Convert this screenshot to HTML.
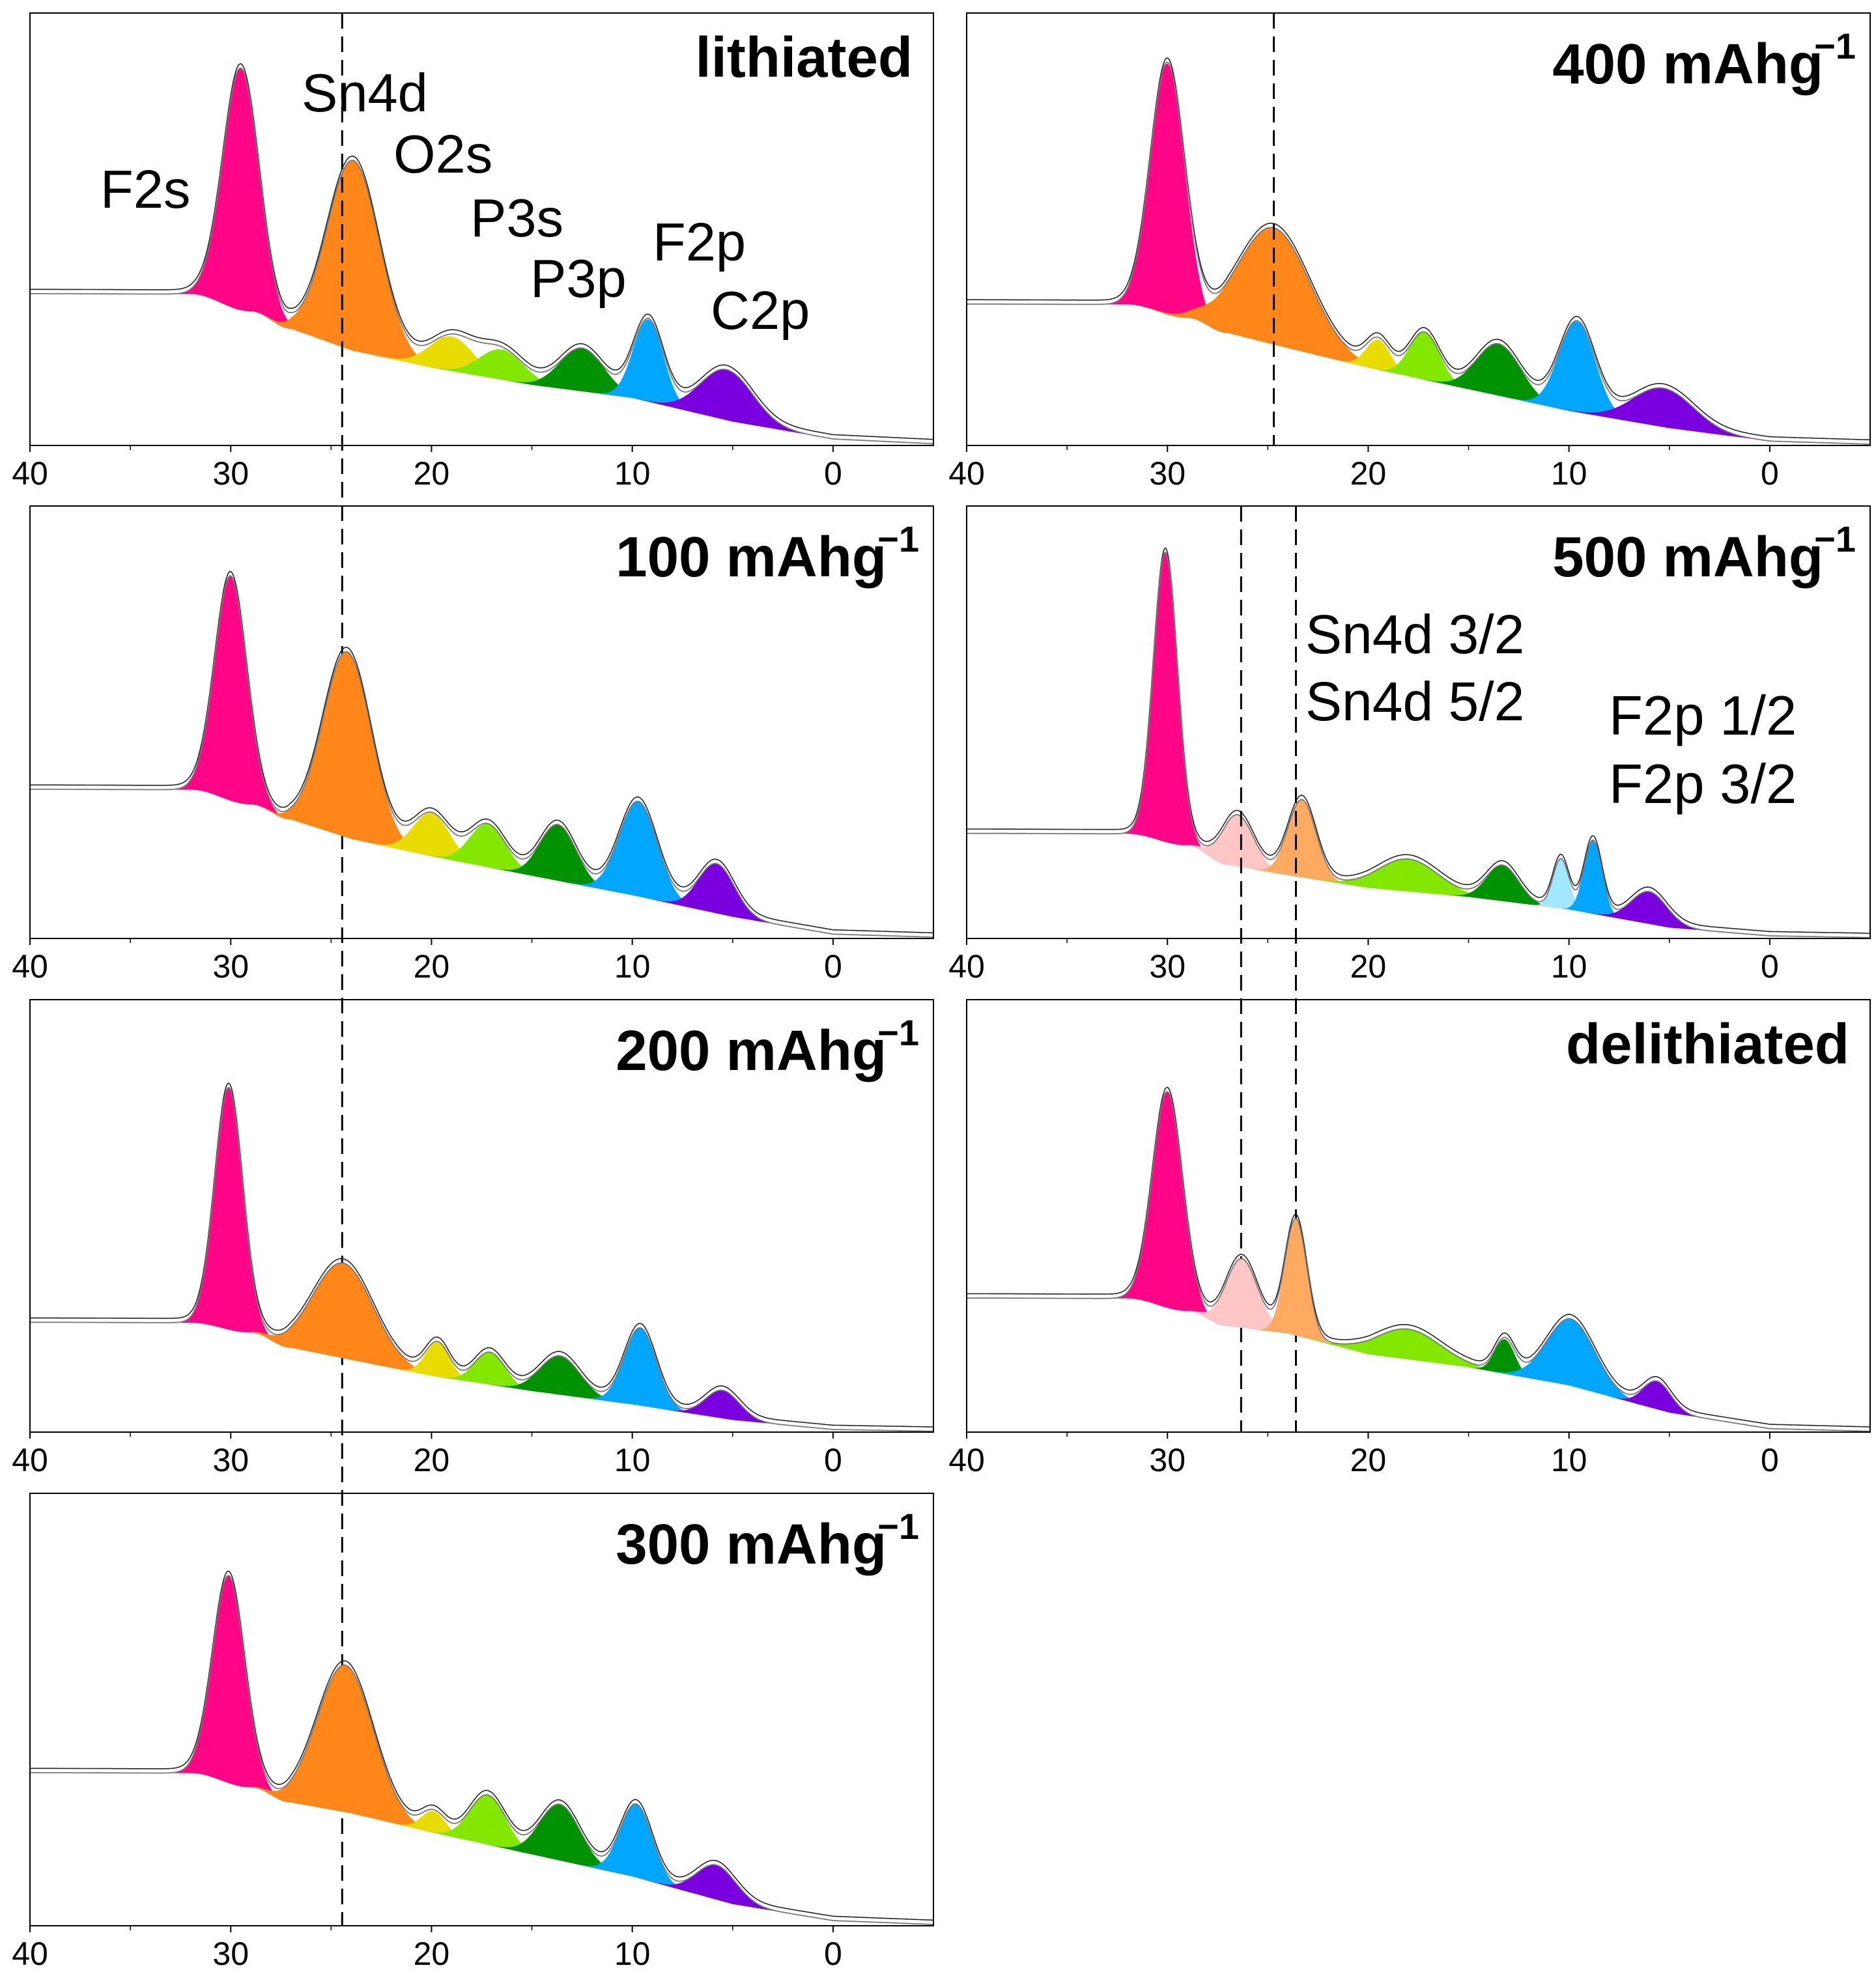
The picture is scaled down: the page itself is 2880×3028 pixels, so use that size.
<!DOCTYPE html>
<html><head><meta charset="utf-8"><style>
html,body{margin:0;padding:0;background:#fff;}
svg{display:block;font-family:"Liberation Sans",Arial,sans-serif;}
</style></head><body>
<svg id="chart" width="2880" height="3028" viewBox="0 0 2880 3028" xmlns="http://www.w3.org/2000/svg">
<g id="panels"></g>
<g id="labels">
  <text x="154" y="319" font-size="83">F2s</text>
  <text x="463" y="171" font-size="83">Sn4d</text>
  <text x="604" y="265" font-size="83">O2s</text>
  <text x="722" y="363" font-size="83">P3s</text>
  <text x="814" y="456" font-size="83">P3p</text>
  <text x="1002" y="400" font-size="83">F2p</text>
  <text x="1091" y="505" font-size="83">C2p</text>
  <text x="2004" y="1003" font-size="84">Sn4d 3/2</text>
  <text x="2004" y="1106" font-size="84">Sn4d 5/2</text>
  <text x="2470" y="1128" font-size="85">F2p 1/2</text>
  <text x="2470" y="1233" font-size="85">F2p 3/2</text>
</g>
</svg>
<script>
// shared background x-knots (binding energy, eV)
const bgX = [40, 32, 29, 27, 24, 20, 15, 10, 5, 0, -5];
const tickValues = [40, 30, 20, 10, 0];
const tickLabels = ['40', '30', '20', '10', '0'];
const minorTicks = [35, 25, 15, 5];

// lithiated
const lithBg = [35.1, 35.0, 31.0, 27.0, 22.0, 18.0, 14.0, 11.0, 5.5, 1.5, 0.4];
const lithCenters = [29.5, 23.9, 19.0, 16.5, 12.5, 9.2, 5.3];
const lithHeights = [56, 44, 8, 7, 10, 19, 11.7];
const lithSigmas = [0.9, 1.3, 1.1, 1.1, 1.1, 0.75, 1.3];
const lithColors = ['pink', 'orange', 'yellow', 'lgreen', 'dgreen', 'blue', 'purple'];
// 400 mAh/g
const c400Bg = [32.7, 32.6, 29.5, 26.0, 22.5, 18.0, 13.0, 8.0, 4.0, 1.0, 0.3];
const c400Centers = [30.0, 24.7, 19.5, 17.2, 13.5, 9.6, 5.3];
const c400Heights = [58, 27, 7, 11, 12, 21, 9];
const c400Sigmas = [0.85, 1.8, 0.6, 0.75, 1.1, 0.9, 1.5];
const c400Colors = ['pink', 'orange', 'yellow', 'lgreen', 'dgreen', 'blue', 'purple'];
// 100 mAh/g
const c100Bg = [34.5, 34.4, 31.0, 27.5, 23.0, 19.0, 14.5, 10.0, 5.0, 1.0, 0.3];
const c100Centers = [30.0, 24.2, 20.0, 17.2, 13.7, 9.7, 5.8];
const c100Heights = [52, 43, 10, 10, 13, 22, 11.5];
const c100Sigmas = [0.8, 1.2, 0.9, 0.9, 0.9, 0.95, 0.9];
const c100Colors = ['pink', 'orange', 'yellow', 'lgreen', 'dgreen', 'blue', 'purple'];
// 500 mAh/g
const c500Bg = [24.3, 24.2, 21.5, 17.0, 14.6, 11.7, 9.6, 6.7, 2.5, 0.6, 0.2];
const c500Centers = [30.1, 26.5, 23.3, 18.0, 13.3, 10.4, 8.8, 6.0];
const c500Heights = [67, 12, 18, 7.5, 8.3, 11.5, 17, 7.5];
const c500Sigmas = [0.6, 0.8, 0.7, 1.5, 0.8, 0.4, 0.45, 0.9];
const c500Colors = ['pink', 'lpink', 'lorange', 'lgreen', 'dgreen', 'lblue', 'blue', 'purple'];
// 200 mAh/g
const c200Bg = [25.4, 25.3, 23.0, 19.5, 16.7, 13.0, 9.5, 6.4, 2.8, 0.6, 0.2];
const c200Centers = [30.1, 24.4, 19.7, 17.1, 13.6, 9.6, 5.5];
const c200Heights = [56, 22, 8, 7.5, 9, 18, 6.5];
const c200Sigmas = [0.7, 1.5, 0.6, 0.75, 1.0, 0.8, 0.85];
const c200Colors = ['pink', 'orange', 'yellow', 'lgreen', 'dgreen', 'blue', 'purple'];
// delithiated
const delBg = [31.0, 30.9, 28.0, 24.5, 22.8, 18.0, 15.0, 10.8, 4.5, 0.8, 0.2];
const delCenters = [30.0, 26.3, 23.6, 18.0, 13.2, 9.9, 5.6];
const delHeights = [50, 16, 27, 7, 8, 15.5, 6.5];
const delSigmas = [0.75, 0.8, 0.55, 1.6, 0.5, 1.2, 0.7];
const delColors = ['pink', 'lpink', 'lorange', 'lgreen', 'dgreen', 'blue', 'purple'];
// 300 mAh/g
const c300Bg = [35.4, 35.3, 32.0, 28.5, 26.0, 21.6, 16.5, 11.4, 5.0, 1.2, 0.3];
const c300Centers = [30.1, 24.3, 19.9, 17.2, 13.6, 9.8, 5.8];
const c300Heights = [48, 34, 5, 11.5, 13, 17, 8];
const c300Sigmas = [0.8, 1.4, 0.6, 0.9, 1.0, 0.8, 1.0];
const c300Colors = ['pink', 'orange', 'yellow', 'lgreen', 'dgreen', 'blue', 'purple'];

const palette = {pink:'#ff0686', orange:'#ff8618', yellow:'#e8dc00', lgreen:'#82e800', dgreen:'#009200',
  blue:'#00a6ff', purple:'#7a00e0', lpink:'#ffc6c6', lorange:'#ffaa60', lblue:'#a2e6ff'};

const NS = 'http://www.w3.org/2000/svg';
const colX = [46, 1484], rowY = [20, 777, 1535, 2293], PW = 1387, PH = 664;
const root = document.getElementById('panels');

function mk(tag, attrs, parent) {
  const e = document.createElementNS(NS, tag);
  for (const k in attrs) e.setAttribute(k, attrs[k]);
  parent.appendChild(e);
  return e;
}
function bgAt(bg, x) {
  for (let i = 0; i < bgX.length - 1; i++) {
    if (x <= bgX[i] && x >= bgX[i + 1]) {
      let t = (bgX[i] - x) / (bgX[i] - bgX[i + 1]);
      if (i < 3) t = (1 - Math.cos(Math.PI * t)) / 2;
      return bg[i] + t * (bg[i + 1] - bg[i]);
    }
  }
  return bg[bg.length - 1];
}
function gauss(x, c, h, s) { return h * Math.exp(-0.5 * ((x - c) / s) ** 2); }

function panel(name, col, row, bg, centers, heights, sigmas, colors, title, sup, dashes) {
  const x0 = colX[col], y0 = rowY[row];
  const sx = v => x0 + (40 - v) / 45 * PW;
  const sy = v => y0 + PH - v / 100 * PH;
  const g = mk('g', {}, root);
  
  
  centers.forEach((c, i) => {
    const pts = [];
    const s = sigmas[i];
    const a = Math.min(40, c + 3.5 * s), b = Math.max(-5, c - 3.5 * s);
    for (let x = a; x >= b; x -= 0.05) pts.push(sx(x).toFixed(1) + ',' + sy(bgAt(bg, x) + gauss(x, c, heights[i], s)).toFixed(1));
    for (let x = b; x <= a; x += 0.05) pts.push(sx(x).toFixed(1) + ',' + sy(bgAt(bg, x)).toFixed(1));
    const p = mk('polygon', {points: pts.join(' '), fill: palette[colors[i]]}, g);
    
    
  });
  const env = [], env2 = [];
  for (let x = 40; x >= -5; x -= 0.05) {
    let v = bgAt(bg, x);
    centers.forEach((c, i) => { v += gauss(x, c, heights[i], sigmas[i]); });
    env.push(sx(x).toFixed(1) + ',' + sy(v).toFixed(1));
    env2.push(sx(x).toFixed(1) + ',' + sy(v + 1.0).toFixed(1));
  }
  const l2 = mk('polyline', {points: env2.join(' '), fill: 'none', stroke: '#222', 'stroke-width': 1.6}, g);
  
  
  const l = mk('polyline', {points: env.join(' '), fill: 'none', stroke: '#777', 'stroke-width': 1.8}, g);
  
  
  const f = mk('rect', {x: x0, y: y0, width: PW, height: PH, fill: 'none', stroke: '#000', 'stroke-width': 2}, g);
  
  
  tickValues.forEach((t, i) => {
    const tk = mk('line', {x1: sx(t), x2: sx(t), y1: y0 + PH, y2: y0 + PH + 10, stroke: '#000', 'stroke-width': 2}, g);
    
    
    const tx = mk('text', {x: sx(t), y: y0 + PH + 60, 'font-size': 50, 'text-anchor': 'middle'}, g);
    tx.textContent = tickLabels[i];
    
    
  });
  minorTicks.forEach(t => {
    const tk = mk('line', {x1: sx(t), x2: sx(t), y1: y0 + PH, y2: y0 + PH + 7, stroke: '#000', 'stroke-width': 1.5}, g);
    
    
  });
  (dashes || []).forEach(d => {
    const dl = mk('line', {x1: sx(d[0]), x2: sx(d[0]), y1: d[1], y2: d[2], stroke: '#000', 'stroke-width': 3, 'stroke-dasharray': '24 12'}, g);
    
    
  });
  const right = x0 + PW - (sup ? 22 : 32);
  const tt = mk('text', {x: right - (sup ? 50 : 0), y: y0 + (sup ? 108 : 98), 'font-size': 87, 'font-weight': 'bold', 'text-anchor': 'end'}, g);
  tt.textContent = title;
  
  
  if (sup) {
    const st = mk('text', {x: right, y: y0 + 70, 'font-size': 56, 'font-weight': 'bold', 'text-anchor': 'end'}, g);
    st.textContent = '−1';
    
    
  }
}

panel('lithiated', 0, 0, lithBg, lithCenters, lithHeights, lithSigmas, lithColors, 'lithiated', false, [[24.45, 20, 2957]]);
panel('rate-400', 1, 0, c400Bg, c400Centers, c400Heights, c400Sigmas, c400Colors, '400 mAhg', true, [[24.7, 20, 684]]);
panel('rate-100', 0, 1, c100Bg, c100Centers, c100Heights, c100Sigmas, c100Colors, '100 mAhg', true, []);
panel('rate-500', 1, 1, c500Bg, c500Centers, c500Heights, c500Sigmas, c500Colors, '500 mAhg', true, [[26.33, 777, 2199], [23.6, 777, 2199]]);
panel('rate-200', 0, 2, c200Bg, c200Centers, c200Heights, c200Sigmas, c200Colors, '200 mAhg', true, []);
panel('delithiated', 1, 2, delBg, delCenters, delHeights, delSigmas, delColors, 'delithiated', false, []);
panel('rate-300', 0, 3, c300Bg, c300Centers, c300Heights, c300Sigmas, c300Colors, '300 mAhg', true, []);
</script>
</body></html>
